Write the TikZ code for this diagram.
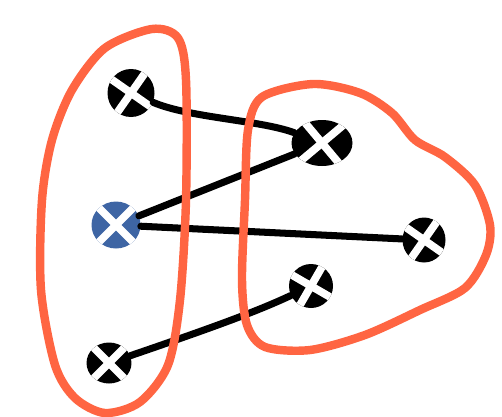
\documentclass[tikz,border=0pt]{standalone}
\usetikzlibrary{shapes.geometric}
\definecolor{hullred}{RGB}{255,101,66}
\definecolor{pinblue}{RGB}{62,101,164}
\begin{document}
\begin{tikzpicture}[x=0.02cm, y=-0.02cm,
    xdot/.style={ellipse, inner sep=0pt, path picture={
      \draw[white, line width=4.4pt]
        ([shift={(45+#1:1cm)}]path picture bounding box.center) -- ([shift={(225+#1:1cm)}]path picture bounding box.center)
        ([shift={(135+#1:1cm)}]path picture bounding box.center) -- ([shift={(315+#1:1cm)}]path picture bounding box.center);}},
    link/.style={line width=4pt, line cap=round},
    hull/.style={hullred, line width=4.8pt}]
    \useasboundingbox (0,0) rectangle (502,416);
    % points
    \foreach \n/\p/\w/\h/\r/\c in {a/{131,93}/0.94/0.96/10/black, b/{322,143}/1.22/0.92/-5/black,
        c/{116,225}/0.98/0.94/0/pinblue, d/{424,240}/0.86/0.9/10/black,
        e/{311,286}/0.88/0.88/15/black, f/{109,363}/0.9/0.82/0/black}
      \node[xdot=\r, fill=\c, minimum width=\w cm, minimum height=\h cm] (\n) at (\p) {};
    % links
    \draw[link] (a) .. controls (190,118) and (260,120) .. (b);
    \draw[link] (c) -- (b);
    \draw[link] (c) -- (d);
    \draw[link] (f) .. controls (220,325) and (260,310) .. (e);
    % groups
    \draw[hull] plot[smooth cycle] coordinates {(152,29) (178,38) (186,80) (186,200) (180,300)
        (168,365) (140,402) (105,413) (75,398) (55,365) (41,290) (42,200) (52,140) (72,90) (105,48)};
    \draw[hull] plot[smooth cycle] coordinates {(313,84) (360,93) (392,113) (415,140) (445,157)
        (475,185) (490,225) (486,255) (465,288) (420,310) (365,335) (310,350) (265,347) (247,325)
        (242,280) (245,200) (248,130) (262,97)};
\end{tikzpicture}
\end{document}
